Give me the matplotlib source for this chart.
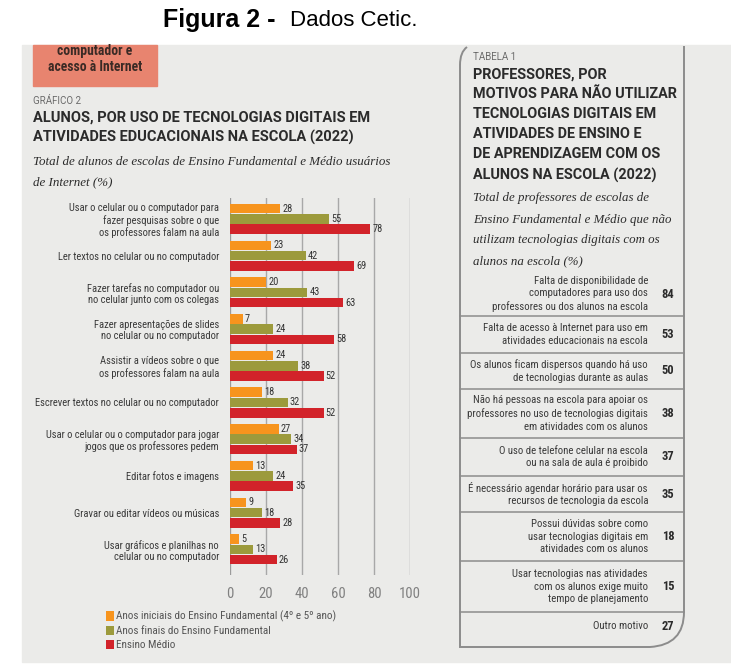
import matplotlib.pyplot as plt
import numpy as np
from matplotlib.patches import Rectangle, PathPatch
from matplotlib.path import Path

# dados do grafico 2
categorias = [
    "Usar o celular ou o computador para\nfazer pesquisas sobre o que\nos professores falam na aula",
    "Ler textos no celular ou no computador",
    "Fazer tarefas no computador ou\nno celular junto com os colegas",
    "Fazer apresentações de slides\nno celular ou no computador",
    "Assistir a vídeos sobre o que\nos professores falam na aula",
    "Escrever textos no celular ou no computador",
    "Usar o celular ou o computador para jogar\njogos que os professores pedem",
    "Editar fotos e imagens",
    "Gravar ou editar vídeos ou músicas",
    "Usar gráficos e planilhas no\ncelular ou no computador",
]
anos_iniciais = [28, 23, 20, 7, 24, 18, 27, 13, 9, 5]
anos_finais = [55, 42, 43, 24, 38, 32, 34, 24, 18, 13]
ensino_medio = [78, 69, 63, 58, 52, 52, 37, 35, 28, 26]
series_nomes = ["Anos iniciais do Ensino Fundamental (4º e 5º ano)",
                "Anos finais do Ensino Fundamental",
                "Ensino Médio"]
x_ticks = [0, 20, 40, 60, 80, 100]

# dados da tabela 1
motivos = [
    "Falta de disponibilidade de\ncomputadores para uso dos\nprofessores ou dos alunos na escola",
    "Falta de acesso à Internet para uso em\natividades educacionais na escola",
    "Os alunos ficam dispersos quando há uso\nde tecnologias durante as aulas",
    "Não há pessoas na escola para apoiar os\nprofessores no uso de tecnologias digitais\nem atividades com os alunos",
    "O uso de telefone celular na escola\nou na sala de aula é proibido",
    "É necessário agendar horário para usar os\nrecursos de tecnologia da escola",
    "Possui dúvidas sobre como\nusar tecnologias digitais em\natividades com os alunos",
    "Usar tecnologias nas atividades\ncom os alunos exige muito\ntempo de planejamento",
    "Outro motivo",
]
motivos_pct = [84, 53, 50, 38, 37, 35, 18, 15, 27]

cores = ['#f7941d', '#9c9a3c', '#d2232a']
fundo = '#ebebe9'
texto = '#2b2b2b'
narrow = dict(family=['Roboto Condensed', 'DejaVu Sans'], stretch='condensed')
serif = ['Liberation Serif', 'DejaVu Serif']
sans = ['Liberation Sans', 'DejaVu Sans']
grot = ['Roboto', 'DejaVu Sans']

fig = plt.figure(figsize=(7.31, 6.65), dpi=100)
ax0 = fig.add_axes([0, 0, 1, 1])
ax0.set_xlim(0, 731)
ax0.set_ylim(665, 0)
ax0.axis('off')

# painel cinza e caixa salmao
ax0.add_patch(Rectangle((22, 45), 731, 617, color=fundo, zorder=0))
ax0.add_patch(Rectangle((33, 45), 124, 41, color='#e8846f', zorder=1))
ax0.text(95, 59, "computador e\nacesso à Internet", ha='center', va='center',
         fontsize=9.8, fontweight='bold', color='#3a2a25', linespacing=1.12, **narrow)

# titulo da figura
ax0.text(163, 20, "Figura 2 -", ha='left', va='center', fontsize=18,
         fontweight='bold', family=sans, color='black')
ax0.text(290, 20, "Dados Cetic.", ha='left', va='center', fontsize=16,
         family=sans, color='black')

# cabecalho do grafico
ax0.text(33, 101, "GRÁFICO 2", fontsize=7, family=grot, color='#6a6a6a', va='center')
ax0.text(33, 128, "ALUNOS, POR USO DE TECNOLOGIAS DIGITAIS EM\nATIVIDADES EDUCACIONAIS NA ESCOLA (2022)",
         fontsize=10.5, fontweight='bold', family=grot, color=texto, va='center', linespacing=1.42)
ax0.text(33, 172, "Total de alunos de escolas de Ensino Fundamental e Médio usuários\nde Internet (%)",
         fontsize=9.4, style='italic', family=serif, color=texto, va='center', linespacing=1.85)

# tabela
verts = [(467, 47), (460, 52), (460, 65), (460, 647), (650, 647),
         (684, 645), (684, 612), (684, 46)]
codes = [Path.MOVETO, Path.CURVE3, Path.CURVE3, Path.LINETO, Path.LINETO,
         Path.CURVE3, Path.CURVE3, Path.LINETO]
ax0.add_patch(PathPatch(Path(verts, codes), facecolor='none', edgecolor='#8c8c8c', lw=1.4, zorder=2))
ax0.text(473, 57, "TABELA 1", fontsize=7, family=grot, color='#6a6a6a', va='center')
ax0.text(473, 125, "PROFESSORES, POR\nMOTIVOS PARA NÃO UTILIZAR\nTECNOLOGIAS DIGITAIS EM\n"
         "ATIVIDADES DE ENSINO E\nDE APRENDIZAGEM COM OS\nALUNOS NA ESCOLA (2022)",
         fontsize=10.4, fontweight='bold', family=grot, color=texto, va='center', linespacing=1.55)
ax0.text(473, 230, "Total de professores de escolas de\nEnsino Fundamental e Médio que não\n"
         "utilizam tecnologias digitais com os\nalunos na escola (%)",
         fontsize=9.3, style='italic', family=serif, color=texto, va='center', linespacing=2.0)

linhas = [272, 316, 353, 389, 438, 476, 512, 561, 612, 640]
for i in range(len(motivos)):
    yc = (linhas[i] + linhas[i + 1]) / 2
    ax0.text(648, yc, motivos[i], ha='right', va='center', fontsize=7.75,
             color='#3a3a3a', linespacing=1.32, **narrow)
    ax0.text(668, yc, str(motivos_pct[i]), ha='center', va='center', fontsize=9,
             fontweight='bold', color=texto, **narrow)
for y in linhas[1:-1]:
    ax0.plot([460, 684], [y, y], color='#8c8c8c', lw=1.1, zorder=2)

# grafico de barras
ax = fig.add_axes([230 / 731, 1 - 575 / 665, 180 / 731, (575 - 198) / 665])
ax.set_facecolor('none')
pos = np.arange(len(categorias))
h = 0.26
series = [anos_iniciais, anos_finais, ensino_medio]
for k, vals in enumerate(series):
    yy = pos + (k - 1) * 0.28
    ax.barh(yy, vals, height=h, color=cores[k], label=series_nomes[k], zorder=3)
    for y, v in zip(yy, vals):
        ax.text(v + 1.2, y, str(v), va='center', ha='left', fontsize=7.5,
                color='#333333', zorder=4, **narrow)

ax.set_xlim(0, 100)
ax.set_ylim(9.7, -0.57)
ax.set_xticks(x_ticks)
ax.set_xticklabels([str(t) for t in x_ticks], fontsize=10.5, color='#808080', **narrow)
ax.set_yticks(pos)
ax.set_yticklabels(categorias, fontsize=7.6, color='#3a3a3a', linespacing=1.15, **narrow)
ax.tick_params(length=0, axis='both')
ax.tick_params(axis='x', pad=9)
ax.tick_params(axis='y', pad=8)
for s in ax.spines.values():
    s.set_visible(False)
ax.grid(axis='x', color='#a8a8a8', lw=1, zorder=1)
ax.axvline(0, color='#999999', lw=1.2, zorder=2)

fig.legend(loc='upper left', bbox_to_anchor=(106 / 731, 1 - 611 / 665), frameon=False,
           prop=dict(size=8, **narrow), labelcolor='#555555',
           handlelength=0.75, handleheight=0.9, handletextpad=0.15,
           labelspacing=0.3, borderpad=0, borderaxespad=0)

fig.savefig('out.png', dpi=100)
